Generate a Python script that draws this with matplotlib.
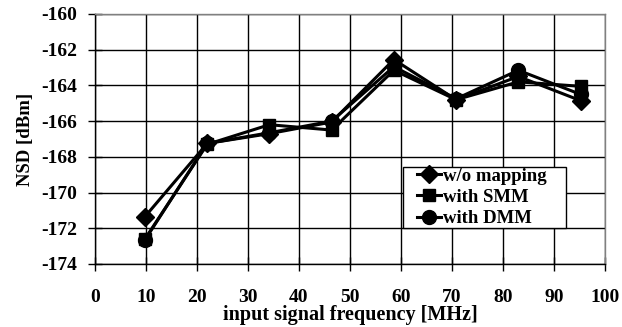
import matplotlib
matplotlib.use("Agg")
import matplotlib.pyplot as plt
from matplotlib.patches import Rectangle

# ---- data ----
freq_mhz = [9.8, 22.0, 34.2, 46.4, 58.6, 70.8, 83.0, 95.2]
nsd_wo   = [-171.35, -167.25, -166.7, -166.05, -162.55, -164.8, -163.5, -164.85]
nsd_smm  = [-172.6, -167.3, -166.2, -166.5, -163.15, -164.8, -163.8, -164.05]
nsd_dmm  = [-172.65, -167.25, -166.65, -166.0, -162.95, -164.75, -163.15, -164.5]

x_ticks = list(range(0, 101, 10))
y_ticks = list(range(-174, -159, 2))

plt.rcParams["font.family"] = ["Liberation Serif", "DejaVu Serif"]
plt.rcParams["font.weight"] = "bold"
plt.rcParams["axes.unicode_minus"] = False

fig = plt.figure(figsize=(6.22, 3.27), dpi=100)
ax = fig.add_axes([0.1527, 0.1927, 0.82, 0.7645])

series = [
    (nsd_wo, "D", 9, "w/o mapping"),
    (nsd_smm, "s", 9, "with SMM"),
    (nsd_dmm, "o", 10, "with DMM"),
]
for ys, mk, ms, lab in series:
    ax.plot(freq_mhz, ys, color="black", lw=2.2, marker=mk, ms=ms, label=lab, zorder=3)

ax.set_xlim(0, 100)
ax.set_ylim(-174, -160)
ax.set_xticks(x_ticks, labels=[str(v) for v in x_ticks], fontweight="bold", fontsize=14)
ax.set_yticks(y_ticks, labels=[str(v) for v in y_ticks], fontweight="bold", fontsize=14)
ax.grid(True, color="black", lw=1.0)
ax.set_axisbelow(True)
for s in ax.spines.values():
    s.set_linewidth(1.0)
ax.spines["top"].set_color("0.5")
ax.spines["right"].set_color("0.5")
ax.tick_params(direction="inout", length=10, width=1.0)
ax.tick_params(axis="x", pad=13)
ax.tick_params(axis="y", pad=8)

ax.set_xlabel("input signal frequency [MHz]", fontsize=14.5, fontweight="bold", labelpad=-1)
ax.set_ylabel("NSD [dBm]", fontsize=13.5, fontweight="bold", labelpad=5)

# legend box (wider than the entries, like the original)
ax.add_patch(Rectangle((0.604, 0.144), 0.3195, 0.244, transform=ax.transAxes,
                       facecolor="white", edgecolor="black", lw=1.0, zorder=5))
leg = ax.legend(loc="center left", bbox_to_anchor=(0.632, 0.266), fontsize=13.5,
                frameon=False, handlelength=1.25, handletextpad=0.1,
                borderpad=0.0, labelspacing=0.22, borderaxespad=0)
leg.set_zorder(6)
for t in leg.get_texts():
    t.set_fontweight("bold")

fig.savefig("out.png", dpi=100)
